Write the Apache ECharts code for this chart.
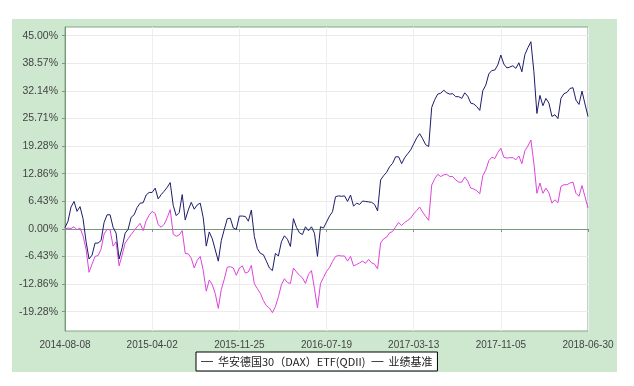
<!DOCTYPE html>
<html><head><meta charset="utf-8">
<script src="https://cdn.jsdelivr.net/npm/echarts@6/dist/echarts.min.js"></script>
<style>html,body{margin:0;padding:0;background:#fff}#c{width:634px;height:386px}</style>
</head><body><div id="c"></div>
<script>
const xTickLabels = ['2014-08-08','2015-04-02','2015-11-25','2016-07-19','2017-03-13','2017-11-05','2018-06-30'];
const yTickValues = [-19.28,-12.86,-6.43,0,6.43,12.86,19.28,25.71,32.14,38.57,45];
const yTickLabels = ['-19.28%','-12.86%','-6.43%','0.00%','6.43%','12.86%','19.28%','25.71%','32.14%','38.57%','45.00%'];
const fundName = '华安德国30（DAX）ETF(QDII)';
const benchName = '业绩基准';
const fund = [0.3,1.8,5.1,6.4,4.1,5.2,2.4,-2.9,-7.0,-6.1,-3.3,-3.3,-2.7,1.5,3.3,3.3,0.4,-1.0,-7.0,-4.4,
-1.0,-0.1,2.7,3.3,5.0,6.0,6.1,7.9,8.5,8.5,9.5,7.0,8.0,8.8,9.7,10.8,5.5,3.1,3.8,8.0,
2.1,4.4,6.2,4.6,5.6,6.0,2.6,-4.0,-0.7,-2.3,-4.9,-7.5,-2.7,-0.1,2.4,2.5,0.2,-0.1,3.0,3.0,
2.9,1.8,4.4,-1.8,-4.6,-5.7,-6.0,-7.5,-9.1,-9.7,-5.7,-6.3,-3.0,-1.6,-2.4,-4.1,2.4,0.4,-0.9,-1.3,
0.5,-0.4,0.5,-1.0,-6.4,0.5,0.2,1.6,3.0,4.0,7.5,7.7,7.6,7.7,6.4,7.9,5.3,6.0,5.7,6.5,
6.4,6.3,6.2,5.7,4.2,11.4,12.4,13.2,14.5,15.3,16.8,16.8,15.2,16.6,17.5,18.4,19.8,21.2,22.2,21.0,
19.6,19.2,28.3,30.1,31.4,31.6,32.3,31.7,31.4,31.5,30.8,30.8,30.4,31.7,30.9,29.3,29.1,28.5,27.6,32.2,
33.5,36.1,36.9,37.0,38.2,40.5,38.4,37.5,37.7,38.0,37.4,38.7,36.6,40.6,42.2,43.6,36.6,26.9,31.1,28.7,
30.4,29.3,26.2,26.6,25.7,30.4,31.5,31.8,32.7,32.9,30.0,29.0,32.1,29.1,26.2];
const bench = [0.0,0.2,0.1,0.5,-0.2,0.2,-1.6,-4.7,-10.1,-8.2,-6.4,-6.2,-4.7,-1.2,-0.1,-0.2,-4.0,-3.0,-8.6,-6.1,
-3.3,-2.3,-1.3,-0.4,0.5,1.3,-0.4,1.9,3.2,4.1,3.6,1.0,0.4,1.1,2.6,4.5,-1.2,-1.7,-1.4,-0.4,
-5.7,-5.8,-6.8,-9.1,-7.3,-6.4,-9.7,-14.5,-11.9,-13.0,-15.1,-18.5,-14.1,-11.7,-8.9,-8.8,-9.1,-10.8,-9.1,-8.6,
-10.3,-10.0,-8.5,-12.8,-13.9,-15.0,-16.7,-17.9,-18.4,-19.5,-18.1,-15.8,-13.0,-11.6,-12.5,-12.7,-9.1,-10.0,-10.8,-11.4,
-12.7,-10.6,-9.7,-13.9,-18.4,-12.7,-11.3,-9.9,-9.0,-7.6,-6.4,-6.2,-6.3,-6.3,-7.5,-6.4,-8.6,-8.3,-7.9,-7.5,
-8.0,-7.1,-7.9,-8.2,-9.3,-3.3,-2.3,-1.9,-0.9,-0.6,0.5,1.5,0.8,1.5,2.0,2.5,3.5,4.3,5.1,3.9,
2.9,2.0,10.2,11.7,12.7,12.2,12.6,12.7,12.2,12.2,11.4,10.9,10.9,12.1,11.1,9.5,9.3,8.9,8.2,12.4,
13.7,15.9,16.7,16.4,17.8,18.8,16.7,16.5,16.6,16.6,16.1,17.0,15.2,18.2,19.3,20.7,15.3,8.3,10.7,8.3,
9.5,8.4,6.0,6.8,6.1,9.9,10.3,10.3,10.7,10.9,8.3,7.6,10.1,7.5,4.9];

const lastIdx = fund.length - 1;
const step = lastIdx / (xTickLabels.length - 1);
const chart = echarts.init(document.getElementById('c'), null, {renderer: 'canvas'});
chart.setOption({
  animation: false,
  backgroundColor: '#fff',
  graphic: [{type: 'rect', z: -10, shape: {x: 12, y: 19, width: 605, height: 353}, style: {fill: '#cde8cf'}}],
  grid: {left: 65, right: 46, top: 27, bottom: 55, show: true, backgroundColor: '#fff', borderColor: '#86a486', borderWidth: 1},
  legend: {
    left: 196, top: 352, itemGap: 6, itemWidth: 12, itemHeight: 1, padding: [4, 5],
    borderColor: '#000', borderWidth: 1, backgroundColor: '#fff',
    textStyle: {fontFamily: '"Noto Sans CJK SC"', fontSize: 11, color: '#222'},
    data: [
      {name: fundName, icon: 'rect', itemStyle: {color: '#444'}},
      {name: benchName, icon: 'rect', itemStyle: {color: '#444'}}
    ]
  },
  xAxis: {
    type: 'value', min: 0, max: lastIdx, interval: step, offset: 4,
    axisLine: {lineStyle: {color: '#7a987a'}},
    axisTick: {show: true, length: 3, lineStyle: {color: '#7a987a'}},
    axisLabel: {color: '#444', fontSize: 10, fontFamily: '"Liberation Sans"', margin: 5,
      formatter: v => xTickLabels[Math.round(v / step)] || ''},
    splitLine: {show: true, lineStyle: {color: '#ededf3', width: 1}}
  },
  yAxis: {
    type: 'value', min: -23.77, max: 47.03, offset: 3,
    axisLine: {show: true, lineStyle: {color: '#7a987a'}},
    axisTick: {show: true, length: 3, customValues: yTickValues, lineStyle: {color: '#7a987a'}},
    axisLabel: {color: '#444', fontSize: 10.5, fontFamily: '"Liberation Sans"', margin: 4, customValues: yTickValues,
      formatter: v => { const i = yTickValues.indexOf(v); return i >= 0 ? yTickLabels[i] : ''; }},
    splitLine: {show: true, lineStyle: {color: '#ebebeb', width: 1}}
  },
  series: [
    {name: fundName, type: 'line', showSymbol: false, color: '#1c1c6b', lineStyle: {width: 1, color: '#1c1c6b'},
      data: fund.map((v, i) => [i, v]), z: 3},
    {name: benchName, type: 'line', showSymbol: false, color: '#dd44dd', lineStyle: {width: 1, color: '#dd44dd'},
      data: bench.map((v, i) => [i, v]), z: 2}
  ]
});
</script>
</body></html>
